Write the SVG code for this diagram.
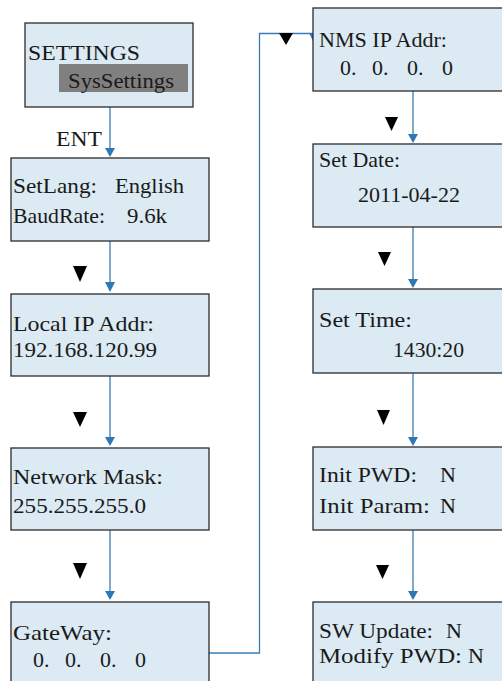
<svg xmlns="http://www.w3.org/2000/svg" width="502" height="681" viewBox="0 0 502 681">
<style>
.box{fill:#dbeaf3;stroke:#2b2b2b;stroke-width:1.3}
.t{font-family:'Liberation Serif','Times New Roman','DejaVu Serif',Tinos,serif;font-size:22px;fill:#1a1a1a}
.c{fill:none;stroke:#3a7db5;stroke-width:1.3}
.ah{fill:#2f78b4}
.k{fill:#000}
</style>
<rect width="502" height="681" fill="#ffffff"/>
<g id="connectors">
<line class="c" x1="110" y1="107" x2="110" y2="150"/>
<polygon class="ah" points="105,148 115,148 110,157"/>
<line class="c" x1="110" y1="241" x2="110" y2="284"/>
<polygon class="ah" points="105,282 115,282 110,292"/>
<line class="c" x1="110" y1="376" x2="110" y2="438"/>
<polygon class="ah" points="105,437 115,437 110,446"/>
<line class="c" x1="110" y1="530" x2="110" y2="592"/>
<polygon class="ah" points="105,591 115,591 110,600"/>
<polyline class="c" points="209,653 259.5,653 259.5,33.5 313,33.5"/>
<polygon class="ah" points="309,33 319,33 314,43"/>
<line class="c" x1="413" y1="91" x2="413" y2="136"/>
<polygon class="ah" points="408,134 418,134 413,143"/>
<line class="c" x1="413" y1="227" x2="413" y2="281"/>
<polygon class="ah" points="408,279 418,279 413,288"/>
<line class="c" x1="413" y1="373" x2="413" y2="438"/>
<polygon class="ah" points="408,437 418,437 413,446"/>
<line class="c" x1="413" y1="530" x2="413" y2="592"/>
<polygon class="ah" points="408,591 418,591 413,600"/>
<polygon class="k" points="73,266 87,266 80,282"/>
<polygon class="k" points="73,412 87,412 80,427"/>
<polygon class="k" points="73,563 87,563 80,579"/>
<polygon class="k" points="279,33 293,33 286,45"/>
<polygon class="k" points="385,117 398,117 391.5,131"/>
<polygon class="k" points="378,252 391,252 384.5,266"/>
<polygon class="k" points="377,410 390,410 383.5,425"/>
<polygon class="k" points="376,565 389,565 382.5,579"/>
</g>
<g id="settings">
<rect class="box" x="25" y="23" width="168" height="84"/>
<rect x="59" y="64" width="129" height="28" fill="#808080"/>
<text class="t" x="28" y="60" textLength="112" lengthAdjust="spacingAndGlyphs">SETTINGS</text>
<text class="t" x="68" y="88" textLength="106" lengthAdjust="spacingAndGlyphs">SysSettings</text>
</g>
<g id="ent-label">
<text class="t" x="56" y="146" textLength="46" lengthAdjust="spacingAndGlyphs">ENT</text>
</g>
<g id="setlang">
<rect class="box" x="11" y="158" width="198" height="83"/>
<text class="t" x="13" y="193" textLength="84" lengthAdjust="spacingAndGlyphs">SetLang:</text>
<text class="t" x="115" y="193" textLength="69" lengthAdjust="spacingAndGlyphs">English</text>
<text class="t" x="13" y="223" textLength="92" lengthAdjust="spacingAndGlyphs">BaudRate:</text>
<text class="t" x="127" y="223" textLength="40" lengthAdjust="spacingAndGlyphs">9.6k</text>
</g>
<g id="localip">
<rect class="box" x="11" y="294" width="198" height="82"/>
<text class="t" x="13" y="331" textLength="141" lengthAdjust="spacingAndGlyphs">Local IP Addr:</text>
<text class="t" x="13" y="357" textLength="144" lengthAdjust="spacingAndGlyphs">192.168.120.99</text>
</g>
<g id="netmask">
<rect class="box" x="11" y="448" width="198" height="82"/>
<text class="t" x="13" y="484" textLength="150" lengthAdjust="spacingAndGlyphs">Network Mask:</text>
<text class="t" x="13" y="513" textLength="133" lengthAdjust="spacingAndGlyphs">255.255.255.0</text>
</g>
<g id="gateway">
<rect class="box" x="11" y="602" width="198" height="90"/>
<text class="t" x="13" y="640" textLength="99" lengthAdjust="spacingAndGlyphs">GateWay:</text>
<text class="t" y="667"><tspan x="33">0.</tspan><tspan x="65">0.</tspan><tspan x="100">0.</tspan><tspan x="135">0</tspan></text>
</g>
<g id="nmsip">
<rect class="box" x="313" y="8" width="195" height="83"/>
<text class="t" x="319" y="47" textLength="128" lengthAdjust="spacingAndGlyphs">NMS IP Addr:</text>
<text class="t" y="75"><tspan x="340">0.</tspan><tspan x="372">0.</tspan><tspan x="407">0.</tspan><tspan x="442">0</tspan></text>
</g>
<g id="setdate">
<rect class="box" x="313" y="144" width="195" height="83"/>
<text class="t" x="319" y="167" textLength="81" lengthAdjust="spacingAndGlyphs">Set Date:</text>
<text class="t" x="358" y="202" textLength="102" lengthAdjust="spacingAndGlyphs">2011-04-22</text>
</g>
<g id="settime">
<rect class="box" x="313" y="289" width="195" height="84"/>
<text class="t" x="319" y="327" textLength="93" lengthAdjust="spacingAndGlyphs">Set Time:</text>
<text class="t" x="393" y="357" textLength="71" lengthAdjust="spacingAndGlyphs">1430:20</text>
</g>
<g id="init">
<rect class="box" x="313" y="447" width="195" height="83"/>
<text class="t" x="319" y="482" textLength="98" lengthAdjust="spacingAndGlyphs">Init PWD:</text>
<text class="t" x="440" y="482">N</text>
<text class="t" x="319" y="513" textLength="111" lengthAdjust="spacingAndGlyphs">Init Param:</text>
<text class="t" x="440" y="513">N</text>
</g>
<g id="swupdate">
<rect class="box" x="313" y="602" width="195" height="90"/>
<text class="t" x="319" y="638" textLength="114" lengthAdjust="spacingAndGlyphs">SW Update:</text>
<text class="t" x="446" y="638">N</text>
<text class="t" x="319" y="663" textLength="143" lengthAdjust="spacingAndGlyphs">Modify PWD:</text>
<text class="t" x="468" y="663">N</text>
</g>
</svg>
